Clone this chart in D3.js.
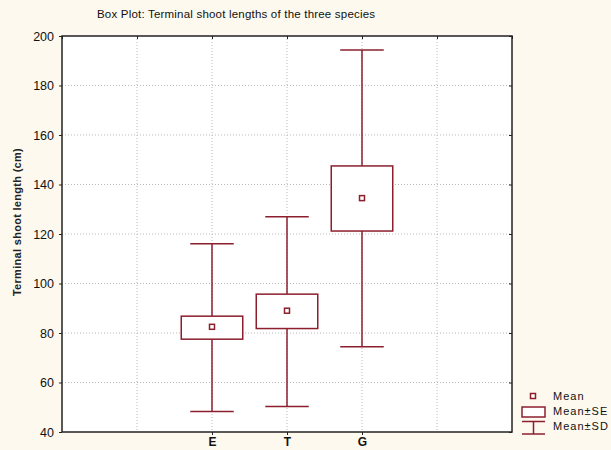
<!DOCTYPE html>
<html>
<head>
<meta charset="utf-8">
<script src="https://cdn.jsdelivr.net/npm/d3@7"></script>
<style>
  body { margin: 0; background: #fdf9ee; }
  svg { display: block; font-family: "Liberation Sans", Arial, sans-serif; }
</style>
</head>
<body>
<div id="chart"></div>
<script>
// species and their summary stats
var species = ["E", "T", "G"]
var means = [82.5, 89, 134.5]
var seLow = [77.5, 81.8, 121.2]
var seHigh = [86.8, 95.7, 147.5]
var sdLow = [48.3, 50.3, 74.4]
var sdHigh = [116.1, 127, 194.3]
var yTicks = [40, 60, 80, 100, 120, 140, 160, 180, 200]
var xSlots = [0, 1, 2, 3, 4, 5, 6]   // grid slots, species sit on 2,3,4

var col = "#8c1f2e"

var margin = {top: 36, right: 99, bottom: 18, left: 62},
    width = 611 - margin.left - margin.right,
    height = 450 - margin.top - margin.bottom;

var svg = d3.select("#chart").append("svg")
    .attr("width", 611)
    .attr("height", 450)

var g = svg.append("g")
    .attr("transform", "translate(" + margin.left + "," + margin.top + ")");

var x = d3.scaleLinear().domain([0, 6]).range([0, width]);
var y = d3.scaleLinear().domain([40, 200]).range([height, 0]);

var slotW = x(1) - x(0)

// plot background
g.append("rect")
    .attr("width", width)
    .attr("height", height)
    .attr("fill", "#fff")

// grid
g.selectAll(".hgrid").data(yTicks.slice(1, -1)).enter().append("line")
    .attr("x1", 0).attr("x2", width)
    .attr("y1", function(d) { return y(d); })
    .attr("y2", function(d) { return y(d); })
    .attr("stroke", "#b8b8b8")
    .attr("stroke-dasharray", "1,2")

g.selectAll(".vgrid").data(xSlots.slice(1, -1)).enter().append("line")
    .attr("y1", 0).attr("y2", height)
    .attr("x1", function(d) { return x(d); })
    .attr("x2", function(d) { return x(d); })
    .attr("stroke", "#b8b8b8")
    .attr("stroke-dasharray", "1,2")

// axes
var yAxis = d3.axisLeft(y).tickValues(yTicks).tickSize(3).tickPadding(5)
var yAxisR = d3.axisRight(y).tickValues(yTicks).tickSize(-3).tickFormat("")
var xAxisT = d3.axisTop(x).tickValues(xSlots).tickSize(-3).tickFormat("")
var xAxis = d3.axisBottom(x).tickValues([2, 3, 4]).tickSize(3).tickPadding(2)
    .tickFormat(function(d) { return species[d - 2]; })

var ay = g.append("g").call(yAxis)
ay.selectAll("text").attr("font-size", 12.5).attr("fill", "#111")

var ax = g.append("g").attr("transform", "translate(0," + height + ")").call(xAxis)
ax.selectAll("text").attr("font-size", 12).attr("font-weight", "bold").attr("fill", "#111")

g.append("g").attr("transform", "translate(" + width + ",0)").call(yAxisR)
g.append("g").call(xAxisT)

g.selectAll(".domain").remove()
g.selectAll(".tick line").attr("stroke", "#222")

g.append("rect")
    .attr("width", width)
    .attr("height", height)
    .attr("fill", "none")
    .attr("stroke", "#222")
    .attr("stroke-width", 1.5)

// boxes
var boxes = g.selectAll(".box").data(species).enter().append("g")
    .attr("transform", function(d, i) { return "translate(" + x(i + 2) + ",0)"; })

boxes.append("line")
    .attr("y1", function(d, i) { return y(sdHigh[i]); })
    .attr("y2", function(d, i) { return y(sdLow[i]); })
    .attr("stroke", col).attr("stroke-width", 1.5)

boxes.append("line")
    .attr("x1", -slotW * 0.29).attr("x2", slotW * 0.29)
    .attr("y1", function(d, i) { return y(sdHigh[i]); })
    .attr("y2", function(d, i) { return y(sdHigh[i]); })
    .attr("stroke", col).attr("stroke-width", 1.5)

boxes.append("line")
    .attr("x1", -slotW * 0.29).attr("x2", slotW * 0.29)
    .attr("y1", function(d, i) { return y(sdLow[i]); })
    .attr("y2", function(d, i) { return y(sdLow[i]); })
    .attr("stroke", col).attr("stroke-width", 1.5)

boxes.append("rect")
    .attr("x", -slotW * 0.41)
    .attr("width", slotW * 0.82)
    .attr("y", function(d, i) { return y(seHigh[i]); })
    .attr("height", function(d, i) { return y(seLow[i]) - y(seHigh[i]); })
    .attr("fill", "#fff")
    .attr("stroke", col).attr("stroke-width", 1.5)

boxes.append("rect")
    .attr("x", -2.5).attr("width", 5).attr("height", 5)
    .attr("y", function(d, i) { return y(means[i]) - 2.5; })
    .attr("fill", "#fff")
    .attr("stroke", col).attr("stroke-width", 1.5)

// title
svg.append("text")
    .attr("x", 97).attr("y", 18)
    .attr("font-size", 11.5)
    .attr("letter-spacing", 0.2)
    .attr("fill", "#111")
    .text("Box Plot: Terminal shoot lengths of the three species")

// y label
svg.append("text")
    .attr("transform", "translate(21,222) rotate(-90)")
    .attr("text-anchor", "middle")
    .attr("font-size", 11)
    .attr("font-weight", "bold")
    .attr("letter-spacing", 0.3)
    .attr("fill", "#222")
    .text("Terminal shoot length (cm)")

// legend
var lg = svg.append("g").attr("transform", "translate(533,0)")

lg.append("rect").attr("x", -2.5).attr("y", 393.5).attr("width", 5).attr("height", 5)
    .attr("fill", "#fff").attr("stroke", col).attr("stroke-width", 1.5)
lg.append("rect").attr("x", -11).attr("y", 407).attr("width", 23).attr("height", 10)
    .attr("fill", "#fff").attr("stroke", col).attr("stroke-width", 1.5)
lg.append("line").attr("x1", -11).attr("x2", 12).attr("y1", 421.5).attr("y2", 421.5)
    .attr("stroke", col).attr("stroke-width", 1.5)
lg.append("line").attr("x1", 0.5).attr("x2", 0.5).attr("y1", 421.5).attr("y2", 434)
    .attr("stroke", col).attr("stroke-width", 1.5)
lg.append("line").attr("x1", -11).attr("x2", 12).attr("y1", 434).attr("y2", 434)
    .attr("stroke", col).attr("stroke-width", 1.5)

var legendText = ["Mean", "Mean±SE", "Mean±SD"]
lg.selectAll(".lt").data(legendText).enter().append("text")
    .attr("x", 20)
    .attr("y", function(d, i) { return 400 + i * 15; })
    .attr("font-size", 11)
    .attr("letter-spacing", 1)
    .attr("fill", "#111")
    .text(function(d) { return d; })
</script>
</body>
</html>
